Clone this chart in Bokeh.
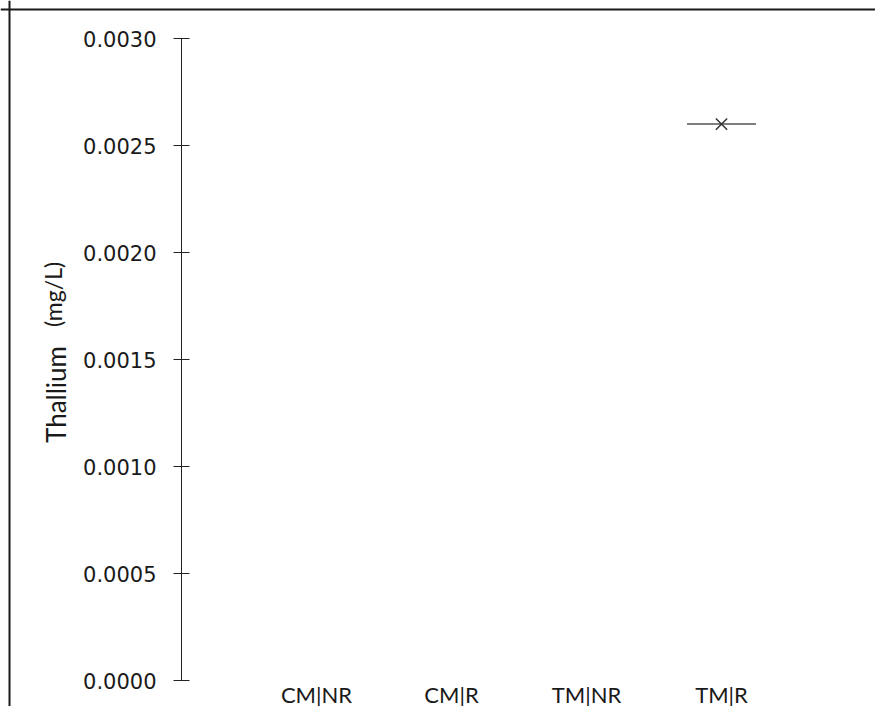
import math
from bokeh.plotting import figure
from bokeh.models import Range1d, FixedTicker, Label, Span
from bokeh.embed import file_html
from bokeh.resources import INLINE

# ---- data ----
categories = ["CM|NR", "CM|R", "TM|NR", "TM|R"]
category_pos = [1, 2, 3, 4]
point_cat = ["TM|R"]
point_y = [0.0026]
y_ticks = [0.0, 0.0005, 0.0010, 0.0015, 0.0020, 0.0025, 0.0030]
y_tick_labels = ["0.0000", "0.0005", "0.0010", "0.0015", "0.0020", "0.0025", "0.0030"]

point_x = [category_pos[categories.index(c)] for c in point_cat]

# ---- layout (pixels -> data) ----
W, H = 875, 706
AX_PX, ZERO_PX = 181, 680     # y-axis x position, y=0 position (pixels)
PX_X = 135.0                  # pixels per category step
PX_Y = 0.0030 / 642.0         # data units per pixel on y
def dx(px):
    return (px - AX_PX) / PX_X
def dy(py):
    return (ZERO_PX - py) * PX_Y

p = figure(width=W, height=H, output_backend="svg", toolbar_location=None,
           x_range=Range1d(dx(0), dx(W)), y_range=Range1d(dy(H), dy(0)),
           min_border=0, min_border_left=0, min_border_right=0,
           min_border_top=0, min_border_bottom=0)
p.outline_line_color = None
p.grid.grid_line_color = None
p.background_fill_color = "white"
p.border_fill_color = "white"

# outer frame (top and left edges visible)
p.add_layout(Span(location=dx(9), dimension="height", line_color="#1a1a1a", line_width=2))
p.add_layout(Span(location=dy(9), dimension="width", line_color="#1a1a1a", line_width=2))

ya = p.yaxis[0]
ya.fixed_location = 0.0
ya.bounds = (0.0, 0.0030)
ya.ticker = FixedTicker(ticks=y_ticks)
ya.major_label_overrides = {t: l for t, l in zip(y_ticks, y_tick_labels)}
ya.minor_tick_line_color = None
ya.major_tick_in = 8
ya.major_tick_out = 8
ya.major_label_standoff = 17
ya.axis_line_color = "#222222"
ya.major_tick_line_color = "#222222"
ya.major_label_text_font = "DejaVu Sans"
ya.major_label_text_font_size = "21px"
ya.major_label_text_color = "#1a1a1a"

xa = p.xaxis[0]
xa.fixed_location = 0.0
xa.ticker = FixedTicker(ticks=category_pos)
xa.major_label_overrides = {c: l for c, l in zip(category_pos, categories)}
xa.axis_line_color = None
xa.major_tick_line_color = None
xa.minor_tick_line_color = None
xa.major_tick_out = 0
xa.major_tick_in = 0
xa.major_label_standoff = 0
xa.major_label_text_font = "Lato"
xa.major_label_text_font_size = "22px"
xa.major_label_text_color = "#1a1a1a"

p.add_layout(Label(x=dx(55), y=dy(394), text="Thallium",
                   angle=math.pi / 2, text_font="Lato", text_font_size="26px",
                   text_color="#1a1a1a", text_align="center", text_baseline="alphabetic"))
p.add_layout(Label(x=dx(52), y=dy(294), text="(mg/L)",
                   angle=math.pi / 2, text_font="Lato", text_font_size="23px",
                   text_color="#1a1a1a", text_align="center", text_baseline="alphabetic"))

p.scatter(point_x, point_y, marker="dash", size=69, line_color="#555555", line_width=1.5)
p.scatter(point_x, point_y, marker="x", size=16, line_color="#333333", line_width=1.5)

open("out.html", "w").write(file_html(p, INLINE))
